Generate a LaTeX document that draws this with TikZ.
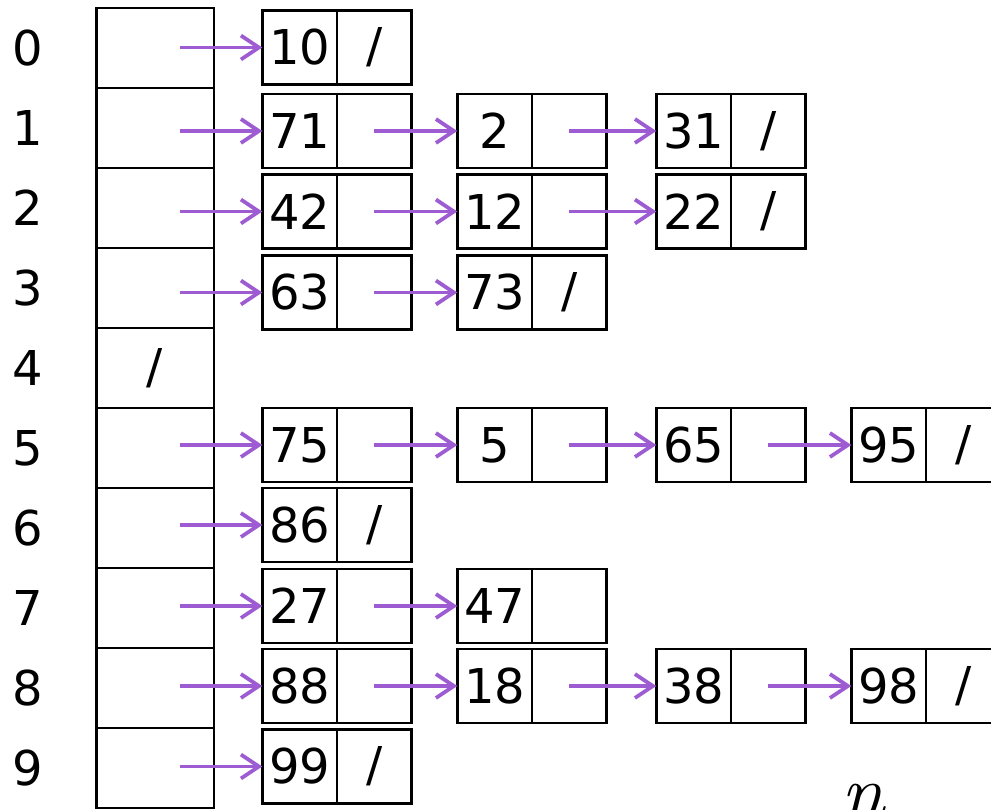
\documentclass[tikz,border=0pt]{standalone}
\usepackage{fontspec}
\setmainfont{DejaVu Sans}
\newfontfamily\lmfont{Latin Modern Roman}
\usetikzlibrary{arrows.meta,positioning}
\definecolor{linkc}{RGB}{158,92,210}
\begin{document}
\begin{tikzpicture}[x=1pt,y=-1pt,
  font=\fontsize{48}{58}\selectfont,
  cell/.style={draw, line width=2.5pt, minimum width=117.5pt, minimum height=80pt, inner sep=0pt, outer sep=0pt},
  val/.style={draw, line width=2.7pt, minimum width=74.7pt, minimum height=73.8pt, inner sep=0pt, outer sep=0pt},
  ptr/.style={val},
  link/.style={line width=3.8pt, draw=linkc, -{Straight Barb[length=18pt,width=24pt]}},
  idx/.style={inner sep=0pt}
]
\clip (0,0) rectangle (991,809);
% index labels and table cells
\foreach \k in {0,...,9}{
  \node[idx] (i\k) at (28,48+80*\k) {\k};
}
\node[cell] (t0) at (155,48) {};
\node[cell] (t1) at (155,128) {};
\node[cell] (t2) at (155,208) {};
\node[cell] (t3) at (155,288) {};
\node[cell] (t4) at (155,368) {/};
\node[cell] (t5) at (155,448) {};
\node[cell] (t6) at (155,528) {};
\node[cell] (t7) at (155,608) {};
\node[cell] (t8) at (155,688) {};
\node[cell] (t9) at (155,768) {};
% row 0
\node[val] (v0a) at (299.7,47.5) {10}; \node[ptr,right=0pt of v0a] (p0a) {/};
% row 1
\node[val] (v1a) at (299.7,131) {71}; \node[ptr,right=0pt of v1a] (p1a) {};
\node[val] (v1b) at (494.7,131) {2};  \node[ptr,right=0pt of v1b] (p1b) {};
\node[val] (v1c) at (693.7,131) {31}; \node[ptr,right=0pt of v1c] (p1c) {/};
% row 2
\node[val] (v2a) at (299.7,211.5) {42}; \node[ptr,right=0pt of v2a] (p2a) {};
\node[val] (v2b) at (494.7,211.5) {12}; \node[ptr,right=0pt of v2b] (p2b) {};
\node[val] (v2c) at (693.7,211.5) {22}; \node[ptr,right=0pt of v2c] (p2c) {/};
% row 3
\node[val] (v3a) at (299.7,292.5) {63}; \node[ptr,right=0pt of v3a] (p3a) {};
\node[val] (v3b) at (494.7,292.5) {73}; \node[ptr,right=0pt of v3b] (p3b) {/};
% row 5
\node[val] (v5a) at (299.7,445) {75}; \node[ptr,right=0pt of v5a] (p5a) {};
\node[val] (v5b) at (494.7,445) {5};  \node[ptr,right=0pt of v5b] (p5b) {};
\node[val] (v5c) at (693.7,445) {65}; \node[ptr,right=0pt of v5c] (p5c) {};
\node[val] (v5d) at (888.7,445) {95}; \node[ptr,right=0pt of v5d] (p5d) {/};
% row 6
\node[val] (v6a) at (299.7,525) {86}; \node[ptr,right=0pt of v6a] (p6a) {/};
% row 7
\node[val] (v7a) at (299.7,606) {27}; \node[ptr,right=0pt of v7a] (p7a) {};
\node[val] (v7b) at (494.7,606) {47}; \node[ptr,right=0pt of v7b] (p7b) {};
% row 8
\node[val] (v8a) at (299.7,686) {88}; \node[ptr,right=0pt of v8a] (p8a) {};
\node[val] (v8b) at (494.7,686) {18}; \node[ptr,right=0pt of v8b] (p8b) {};
\node[val] (v8c) at (693.7,686) {38}; \node[ptr,right=0pt of v8c] (p8c) {};
\node[val] (v8d) at (888.7,686) {98}; \node[ptr,right=0pt of v8d] (p8d) {/};
% row 9
\node[val] (v9a) at (299.7,766.5) {99}; \node[ptr,right=0pt of v9a] (p9a) {/};
% links from table
\foreach \k in {0,1,2,3,5,6,7,8,9}{
  \draw[link] ([xshift=25pt]t\k.center |- v\k a.west) -- (v\k a.west);
}
% links between elements
\draw[link] (p1a.center) -- (v1b.west);
\draw[link] (p1b.center) -- (v1c.west);
\draw[link] (p2a.center) -- (v2b.west);
\draw[link] (p2b.center) -- (v2c.west);
\draw[link] (p3a.center) -- (v3b.west);
\draw[link] (p5a.center) -- (v5b.west);
\draw[link] (p5b.center) -- (v5c.west);
\draw[link] (p5c.center) -- (v5d.west);
\draw[link] (p7a.center) -- (v7b.west);
\draw[link] (p8a.center) -- (v8b.west);
\draw[link] (p8b.center) -- (v8c.west);
\draw[link] (p8c.center) -- (v8d.west);
% n
\node[anchor=base, inner sep=0pt, font=\lmfont\itshape\fontsize{78}{80}\selectfont] (nn) at (863,818) {n};
\end{tikzpicture}
\end{document}
